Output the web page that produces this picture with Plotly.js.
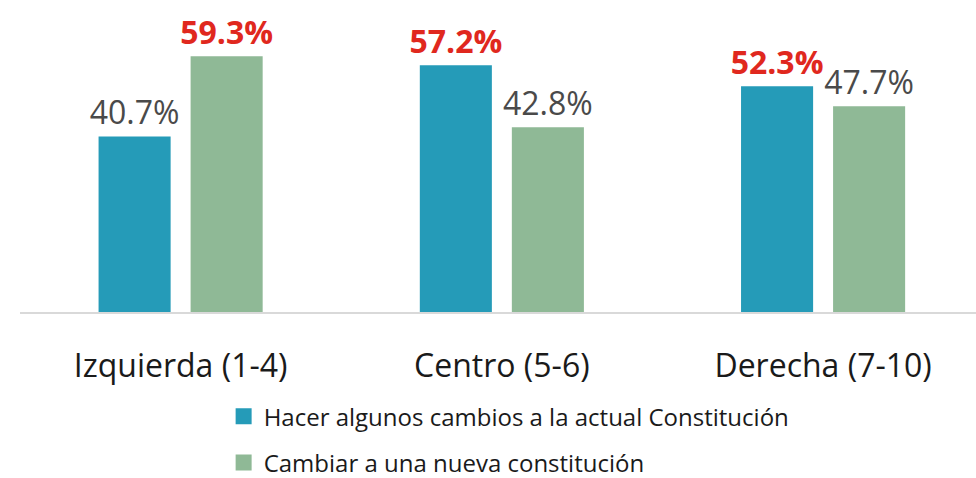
<!DOCTYPE html>
<html>
<head>
<meta charset="utf-8">
<script src="https://cdn.plot.ly/plotly-3.0.1.min.js"></script>
<style>html,body{margin:0;padding:0;background:#fff;}#chart{width:976px;height:478px;}</style>
</head>
<body>
<div id="chart"></div>
<script>
const categories = ["Izquierda (1-4)", "Centro (5-6)", "Derecha (7-10)"];
const seriesNames = ["Hacer algunos cambios a la actual Constitución", "Cambiar a una nueva constitución"];
const hacerCambios = [40.7, 57.2, 52.3];
const nuevaConstitucion = [59.3, 42.8, 47.7];

const colors = ["#259BB8", "#8FB996"];
const FONT = "Open Sans, sans-serif";

function labels(vals, other) {
  return vals.map((v, i) => v > other[i] ? "<b>" + v.toFixed(1) + "%</b>" : v.toFixed(1) + "%");
}
function labelColors(vals, other) {
  return vals.map((v, i) => v > other[i] ? "#E0281E" : "#4a4a4a");
}

const series = [hacerCambios, nuevaConstitucion];
const traces = series.map((vals, k) => {
  const other = series[1 - k];
  return {
    type: "bar",
    x: categories,
    y: vals,
    name: seriesNames[k],
    marker: {color: colors[k]},
    text: labels(vals, other),
    textposition: "outside",
    textfont: {family: FONT, size: 32, color: labelColors(vals, other)},
    constraintext: "none",
    cliponaxis: false,
    hoverinfo: "none",
    showlegend: false
  };
});
seriesNames.forEach((n, k) => {
  traces.push({
    type: "scatter", mode: "markers", x: [null], y: [null], name: n,
    marker: {symbol: "square", size: 16, color: colors[k]},
    legendgroup: "g" + k, showlegend: true, hoverinfo: "none"
  });
});

const layout = {
  width: 976, height: 478,
  margin: {l: 20, r: 0, t: 10, b: 166, autoexpand: false},
  paper_bgcolor: "#fff", plot_bgcolor: "#fff",
  barmode: "group", bargap: 0.427, bargroupgap: 0.217,
  font: {family: FONT},
  xaxis: {
    type: "category", range: [-0.5, 2.476], fixedrange: true, automargin: false,
    showline: true, linecolor: "#d9d9d9", linewidth: 2,
    showgrid: false, zeroline: false, ticks: "",
    tickfont: {family: FONT, size: 32, color: "#1a1a1a"},
    ticklabelstandoff: 25
  },
  yaxis: {range: [0, 70], visible: false, fixedrange: true},
  showlegend: true,
  legend: {
    orientation: "v", x: 0.213, xanchor: "left", y: -0.272, yanchor: "top",
    font: {family: FONT, size: 24, color: "#1a1a1a"},
    tracegroupgap: 12, bgcolor: "rgba(0,0,0,0)", borderwidth: 0
  }
};
Plotly.newPlot("chart", traces, layout, {displayModeBar: false, staticPlot: true});
</script>
</body>
</html>
